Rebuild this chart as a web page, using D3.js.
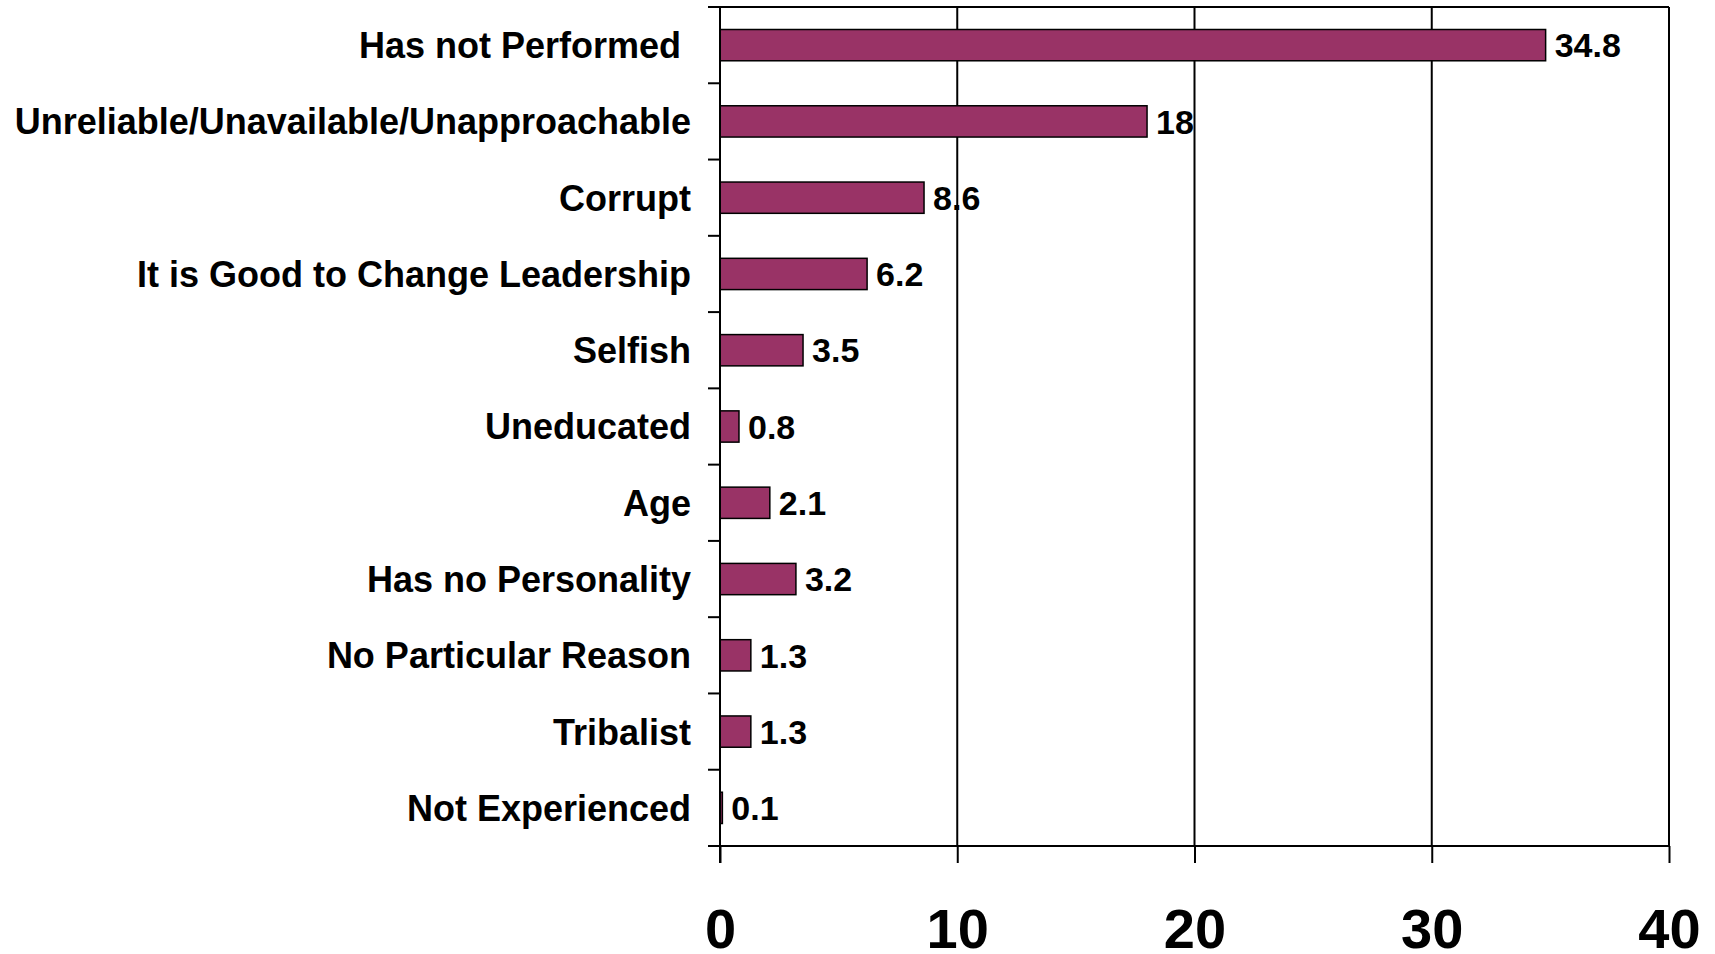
<!DOCTYPE html>
<html>
<head>
<meta charset="utf-8">
<script src="https://cdn.jsdelivr.net/npm/d3@7"></script>
<style>
  html, body { margin: 0; padding: 0; background: #fff; }
  svg { display: block; font-family: "Liberation Sans", Arial, sans-serif; font-weight: bold; }
  .cat { white-space: pre; }
</style>
</head>
<body>
<div id="chart"></div>
<script>
// reasons, top to bottom
// (first label carries a trailing space in the original)
var categories = ['Has not Performed ', 'Unreliable/Unavailable/Unapproachable', 'Corrupt',
  'It is Good to Change Leadership', 'Selfish', 'Uneducated', 'Age', 'Has no Personality',
  'No Particular Reason', 'Tribalist', 'Not Experienced'];
var values = [34.8, 18, 8.6, 6.2, 3.5, 0.8, 2.1, 3.2, 1.3, 1.3, 0.1];
var valueLabels = ['34.8', '18', '8.6', '6.2', '3.5', '0.8', '2.1', '3.2', '1.3', '1.3', '0.1'];
var xTicks = [0, 10, 20, 30, 40];

var data = categories.map(function(c, i) { return {cat: c, val: values[i], lab: valueLabels[i]}; });

var W = 1715, H = 954;
// note: not "top" - that one is window.top
var plotL = 720, plotR = 1669, plotT = 7, plotB = 846;

var svg = d3.select('#chart').append('svg')
  .attr('width', W)
  .attr('height', H);

var x = d3.scaleLinear().domain([0, 40]).range([plotL, plotR]);
var y = d3.scaleBand().domain(categories).range([plotT, plotB])
  .paddingInner(0.59).paddingOuter(0.295);

// vertical gridlines
svg.selectAll('.grid')
  .data(xTicks.slice(1))
  .enter().append('line')
  .attr('x1', function(d) { return x(d); })
  .attr('x2', function(d) { return x(d); })
  .attr('y1', plotT)
  .attr('y2', plotB)
  .attr('stroke', '#000')
  .attr('stroke-width', 2);

// top line of plot area
svg.append('line')
  .attr('x1', plotL - 12).attr('x2', plotR)
  .attr('y1', plotT).attr('y2', plotT)
  .attr('stroke', '#000').attr('stroke-width', 2);

// bars
svg.selectAll('.bar')
  .data(data)
  .enter().append('rect')
  .attr('class', 'bar')
  .attr('x', x(0))
  .attr('y', function(d) { return y(d.cat); })
  .attr('width', function(d) { return x(d.val) - x(0); })
  .attr('height', y.bandwidth())
  .attr('fill', '#993366')
  .attr('stroke', '#000')
  .attr('stroke-width', 1.5);

// value labels
svg.selectAll('.val')
  .data(data)
  .enter().append('text')
  .attr('x', function(d) { return x(d.val) + 9; })
  .attr('y', function(d) { return y(d.cat) + y.bandwidth() / 2; })
  .attr('dy', '0.36em')
  .attr('font-size', '34px')
  .attr('fill', '#000')
  .text(function(d) { return d.lab; });

// category axis: ticks between bands
var step = y.step();
var bounds = d3.range(categories.length + 1).map(function(i) { return plotT + i * step; });
svg.append('line')
  .attr('x1', plotL).attr('x2', plotL)
  .attr('y1', plotT).attr('y2', plotB + 17)
  .attr('stroke', '#000').attr('stroke-width', 2);
svg.selectAll('.ytick')
  .data(bounds)
  .enter().append('line')
  .attr('x1', plotL - 12).attr('x2', plotL)
  .attr('y1', function(d) { return d; })
  .attr('y2', function(d) { return d; })
  .attr('stroke', '#000').attr('stroke-width', 2);

svg.selectAll('.cat')
  .data(data)
  .enter().append('text')
  .attr('class', 'cat')
  .attr('x', plotL - 29)
  .attr('y', function(d) { return y(d.cat) + y.bandwidth() / 2; })
  .attr('dy', '0.36em')
  .attr('text-anchor', 'end')
  .attr('font-size', '36px')
  .attr('fill', '#000')
  .text(function(d) { return d.cat; });

// value axis
var xAxis = svg.append('g')
  .attr('transform', 'translate(0,' + plotB + ')')
  .call(d3.axisBottom(x).tickValues(xTicks).tickSize(17).tickPadding(45).tickSizeOuter(0));
xAxis.select('.domain').attr('d', 'M' + (plotL - 12) + ',0H' + plotR).attr('stroke-width', 2);
xAxis.selectAll('.tick line').attr('stroke-width', 2);
xAxis.selectAll('.tick text')
  .attr('font-size', '56px')
  .attr('font-family', '"Liberation Sans", Arial, sans-serif')
  .attr('font-weight', 'bold')
  .attr('fill', '#000');
</script>
</body>
</html>
